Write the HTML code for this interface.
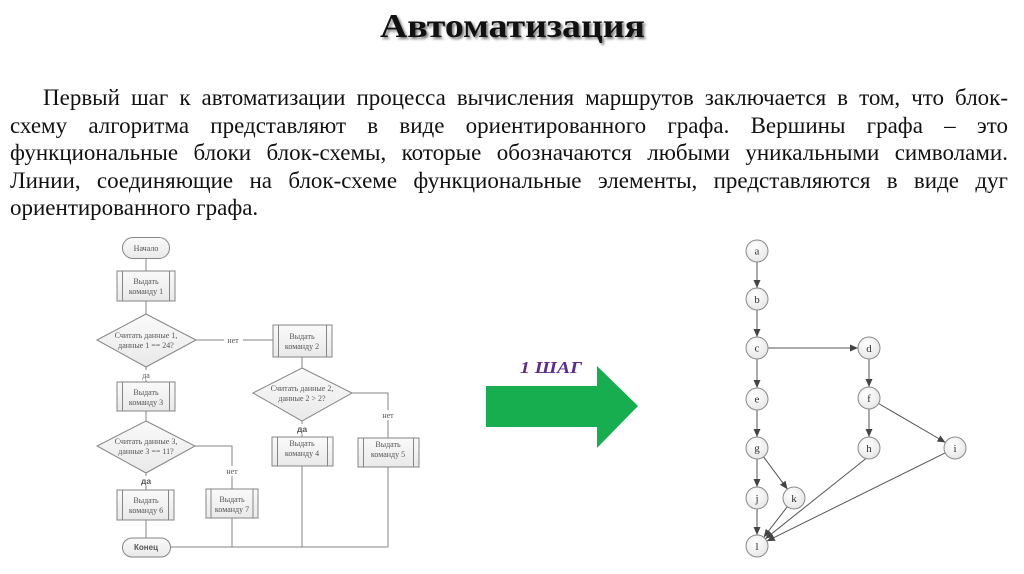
<!DOCTYPE html>
<html>
<head>
<meta charset="utf-8">
<style>
  html,body{margin:0;padding:0;background:#fff;}
  body{width:1024px;height:574px;position:relative;overflow:hidden;}
  .ln{position:absolute;font-family:"Liberation Serif","DejaVu Serif",serif;font-size:23px;line-height:28px;color:#111;white-space:normal;}
  .j{text-align:justify;text-align-last:justify;}
  svg{position:absolute;left:0;top:0;}
</style>
</head>
<body>
<svg width="1024" height="574" viewBox="0 0 1024 574" xmlns="http://www.w3.org/2000/svg">
  <defs>
    <filter id="blur" x="-10%" y="-30%" width="120%" height="160%"><feGaussianBlur stdDeviation="1.3"/></filter>
    <linearGradient id="bx" x1="0" y1="0" x2="0" y2="1">
      <stop offset="0" stop-color="#fafafa"/><stop offset="1" stop-color="#e9e9e9"/>
    </linearGradient>
    <radialGradient id="nd" cx="0.4" cy="0.35" r="0.7">
      <stop offset="0" stop-color="#ffffff"/><stop offset="1" stop-color="#e6e6e6"/>
    </radialGradient>
    <marker id="ar" markerUnits="userSpaceOnUse" markerWidth="8" markerHeight="7" refX="8" refY="3.5" orient="auto">
      <path d="M0,0 L8,3.5 L0,7 z" fill="#444"/>
    </marker>
  </defs>

  <!-- Title -->
  <text x="514.5" y="39" text-anchor="middle" font-family="Liberation Serif, serif" font-weight="bold" font-size="34" textLength="265" lengthAdjust="spacingAndGlyphs" fill="#777" filter="url(#blur)">Автоматизация</text>
  <text x="512.5" y="37" text-anchor="middle" font-family="Liberation Serif, serif" font-weight="bold" font-size="34" textLength="265" lengthAdjust="spacingAndGlyphs" fill="#111">Автоматизация</text>

  <!-- Flowchart -->
  <g stroke="#858585" stroke-width="1" fill="none">
    <line x1="146" y1="258" x2="146" y2="271"/>
    <line x1="146" y1="301" x2="146" y2="314"/>
    <line x1="196" y1="340" x2="273" y2="340"/>
    <line x1="302" y1="357" x2="302" y2="368"/>
    <polyline points="352,393 388,393 388,438"/>
    <line x1="302" y1="421" x2="302" y2="437"/>
    <line x1="146" y1="367" x2="146" y2="382"/>
    <line x1="146" y1="411" x2="146" y2="421"/>
    <polyline points="195,446 232,446 232,489"/>
    <line x1="146" y1="473" x2="146" y2="490"/>
    <line x1="146" y1="520" x2="146" y2="538"/>
    <line x1="170" y1="547" x2="388" y2="547"/>
    <line x1="232" y1="518" x2="232" y2="547"/>
    <line x1="302" y1="466" x2="302" y2="547"/>
    <line x1="388" y1="467" x2="388" y2="547"/>
  </g>
  <g stroke="#858585" stroke-width="1" fill="url(#bx)">
    <rect x="122.5" y="237.5" width="47" height="21" rx="10.5"/>
    <rect x="117" y="271" width="58" height="30"/>
    <polygon points="146,314 196,340 146,367 97,340"/>
    <rect x="273" y="325" width="59" height="32"/>
    <polygon points="302,368 352,393 302,421 253,393"/>
    <rect x="272" y="437" width="61" height="29"/>
    <rect x="358" y="438" width="61" height="29"/>
    <rect x="117" y="382" width="58" height="29"/>
    <polygon points="146,421 195,446 146,473 97,446"/>
    <rect x="117" y="490" width="57" height="30"/>
    <rect x="206" y="489" width="52" height="29"/>
    <rect x="122.5" y="538" width="48" height="19" rx="9.5"/>
  </g>
  <g stroke="#858585" stroke-width="1">
    <line x1="122.5" y1="271" x2="122.5" y2="301"/><line x1="169.5" y1="271" x2="169.5" y2="301"/>
    <line x1="278.5" y1="325" x2="278.5" y2="357"/><line x1="326.5" y1="325" x2="326.5" y2="357"/>
    <line x1="277.5" y1="437" x2="277.5" y2="466"/><line x1="327.5" y1="437" x2="327.5" y2="466"/>
    <line x1="363.5" y1="438" x2="363.5" y2="467"/><line x1="413.5" y1="438" x2="413.5" y2="467"/>
    <line x1="122.5" y1="382" x2="122.5" y2="411"/><line x1="169.5" y1="382" x2="169.5" y2="411"/>
    <line x1="122.5" y1="490" x2="122.5" y2="520"/><line x1="168.5" y1="490" x2="168.5" y2="520"/>
    <line x1="211" y1="489" x2="211" y2="518"/><line x1="253" y1="489" x2="253" y2="518"/>
  </g>
  <!-- label backgrounds -->
  <g fill="#fff">
    <rect x="224" y="335" width="19" height="10"/>
    <rect x="379" y="410" width="19" height="10"/>
    <rect x="223" y="466" width="19" height="10"/>
    <rect x="139" y="370" width="14" height="10"/>
    <rect x="295" y="424" width="14" height="10"/>
    <rect x="139" y="476" width="14" height="10"/>
  </g>
  <g font-family="Liberation Serif, serif" font-size="8" fill="#555" text-anchor="middle">
    <text x="146" y="251">Начало</text>
    <text x="146" y="284">Выдать</text><text x="146" y="294">команду 1</text>
    <text x="146" y="338">Считать данные 1,</text><text x="146" y="348">данные 1 == 24?</text>
    <text x="233" y="343">нет</text>
    <text x="302" y="339">Выдать</text><text x="302" y="349">команду 2</text>
    <text x="302" y="391">Считать данные 2,</text><text x="302" y="401">данные 2 &gt; 2?</text>
    <text x="388" y="418">нет</text>
    <text x="302" y="446">Выдать</text><text x="302" y="456">команду 4</text>
    <text x="388" y="447">Выдать</text><text x="388" y="457">команду 5</text>
    <text x="146" y="378">да</text>
    <text x="146" y="395">Выдать</text><text x="146" y="405">команду 3</text>
    <text x="146" y="444">Считать данные 3,</text><text x="146" y="454">данные 3 == 11?</text>
    <text x="232" y="474">нет</text>
    <text x="146" y="503">Выдать</text><text x="146" y="513">команду 6</text>
    <text x="232" y="502">Выдать</text><text x="232" y="512">команду 7</text>
  </g>
  <text x="302" y="432" font-family="Liberation Sans, sans-serif" font-size="8.5" font-weight="bold" fill="#555" text-anchor="middle">да</text>
  <text x="146" y="484" font-family="Liberation Sans, sans-serif" font-size="8.5" font-weight="bold" fill="#555" text-anchor="middle">да</text>
  <text x="146" y="550" font-family="Liberation Sans, sans-serif" font-size="8" font-weight="bold" fill="#555" text-anchor="middle">Конец</text>

  <!-- Big arrow -->
  <polygon points="486,386 597,386 597,366 638,406 597,448 597,427 486,427" fill="#16ae4e"/>
  <text x="520" y="373" font-family="Liberation Serif, serif" font-weight="bold" font-style="italic" font-size="17" textLength="62" lengthAdjust="spacingAndGlyphs" fill="#5b2b8f">1 ШАГ</text>

  <!-- Graph edges -->
  <g stroke="#555" stroke-width="1" marker-end="url(#ar)">
    <line x1="757" y1="262" x2="757" y2="288"/>
    <line x1="757" y1="310" x2="757" y2="337"/>
    <line x1="768" y1="348" x2="858" y2="348"/>
    <line x1="757" y1="359" x2="757" y2="388"/>
    <line x1="869" y1="359" x2="869" y2="387"/>
    <line x1="757" y1="410" x2="757" y2="437"/>
    <line x1="869" y1="409" x2="869" y2="437"/>
    <line x1="878.5" y1="403.5" x2="945.5" y2="442.5"/>
    <line x1="757" y1="459" x2="757" y2="487"/>
    <line x1="763.5" y1="456.8" x2="787.5" y2="489.2"/>
    <line x1="757" y1="509" x2="757" y2="535"/>
    <line x1="787.3" y1="506.7" x2="763.7" y2="537.3"/>
    <line x1="866" y1="458.5" x2="765.3" y2="538.8"/>
    <line x1="945.1" y1="452.9" x2="766.9" y2="541.1"/>
  </g>
  <!-- Graph nodes -->
  <g stroke="#8a8a8a" stroke-width="1" fill="url(#nd)">
    <circle cx="757" cy="251" r="11"/>
    <circle cx="757" cy="299" r="11"/>
    <circle cx="757" cy="348" r="11"/>
    <circle cx="869" cy="348" r="11"/>
    <circle cx="757" cy="399" r="11"/>
    <circle cx="869" cy="398" r="11"/>
    <circle cx="757" cy="448" r="11"/>
    <circle cx="869" cy="448" r="11"/>
    <circle cx="955" cy="448" r="11"/>
    <circle cx="757" cy="498" r="11"/>
    <circle cx="794" cy="498" r="11"/>
    <circle cx="757" cy="546" r="11"/>
  </g>
  <g font-family="Liberation Serif, serif" font-size="11" fill="#333" text-anchor="middle">
    <text x="757" y="254.5">a</text>
    <text x="757" y="303">b</text>
    <text x="757" y="351.5">c</text>
    <text x="869" y="352">d</text>
    <text x="757" y="402.5">e</text>
    <text x="869" y="402">f</text>
    <text x="757" y="451.5">g</text>
    <text x="869" y="452">h</text>
    <text x="955" y="452">i</text>
    <text x="757" y="502">j</text>
    <text x="794" y="502">k</text>
    <text x="757" y="550">l</text>
  </g>
</svg>

<div class="ln j" style="left:43px;top:84px;width:965px;">Первый шаг к автоматизации процесса вычисления маршрутов заключается в том, что блок-</div>
<div class="ln j" style="left:10px;top:112px;width:998px;">схему алгоритма представляют в виде ориентированного графа. Вершины графа – это</div>
<div class="ln j" style="left:10px;top:139px;width:998px;">функциональные блоки блок-схемы, которые обозначаются любыми уникальными символами.</div>
<div class="ln j" style="left:10px;top:167px;width:998px;">Линии, соединяющие на блок-схеме функциональные элементы, представляются в виде дуг</div>
<div class="ln" style="left:10px;top:194px;width:998px;">ориентированного графа.</div>
</body>
</html>
